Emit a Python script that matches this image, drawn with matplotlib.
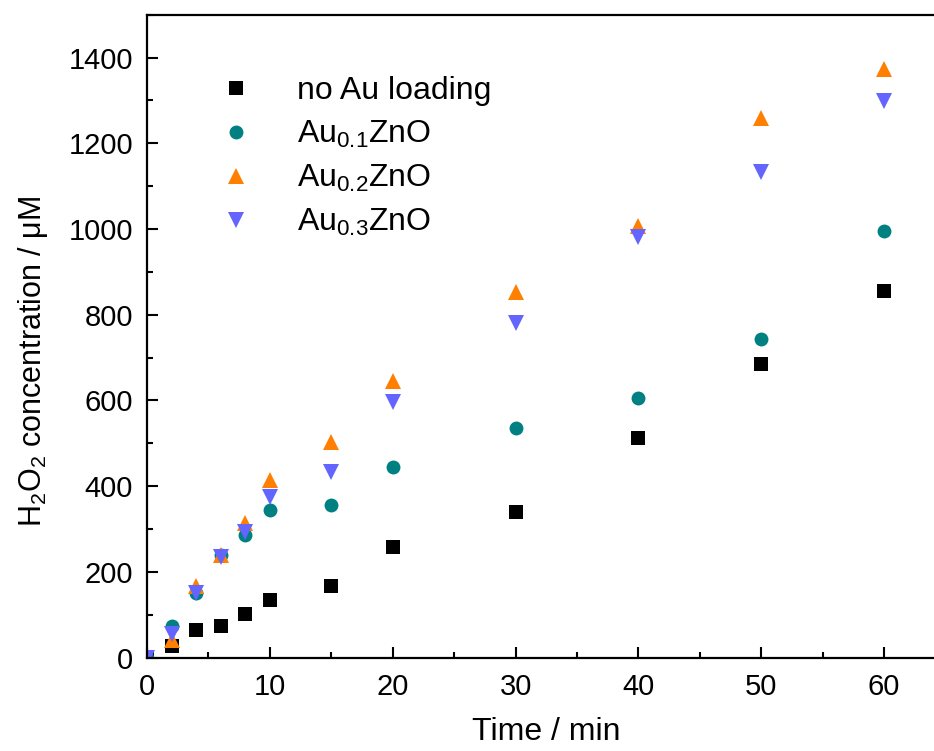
"""plot.py — H2O2 production over time for Au-loaded ZnO → out.png"""
import matplotlib
matplotlib.use("Agg")
import matplotlib.pyplot as plt
from matplotlib.ticker import MultipleLocator

# sampling times (min)
time_min = [0, 2, 4, 6, 8, 10, 15, 20, 30, 40, 50, 60]

# H2O2 concentration (uM) per catalyst
no_au = [0, 28, 65, 74, 101, 135, 168, 258, 340, 513, 685, 856]
au01 = [0, 73, 150, 239, 287, 344, 356, 445, 536, 606, 744, 995]
au02 = [0, 41, 167, 239, 315, 414, 502, 646, 854, 1007, 1258, 1373]
au03 = [0, 55, 150, 235, 294, 375, 434, 597, 781, 982, 1134, 1299]

series_labels = ["no Au loading", "Au$_{0.1}$ZnO", "Au$_{0.2}$ZnO", "Au$_{0.3}$ZnO"]


def main():
    plt.rcParams["font.family"] = ["Liberation Sans", "DejaVu Sans"]
    plt.rcParams["mathtext.fontset"] = "custom"
    plt.rcParams["mathtext.rm"] = "Liberation Sans"
    plt.rcParams["mathtext.it"] = "Liberation Sans:italic"
    plt.rcParams["mathtext.bf"] = "Liberation Sans:bold"

    fig = plt.figure(figsize=(9.34, 7.51), dpi=100)
    ax = fig.add_axes([0.1574, 0.1245, 0.855, 0.856])

    style = [
        (no_au, "s", "#000000", 9.5),
        (au01, "o", "#008080", 10),
        (au02, "^", "#FF8000", 11),
        (au03, "v", "#6464FF", 11),
    ]
    for (vals, mk, color, ms), label in zip(style, series_labels):
        ax.plot(time_min, vals, ls="none", marker=mk, ms=ms, color=color,
                mec=color, mew=0, label=label)

    ax.set_xlim(0, 65)
    ax.set_ylim(0, 1500)
    ax.xaxis.set_major_locator(MultipleLocator(10))
    ax.xaxis.set_minor_locator(MultipleLocator(5))
    ax.yaxis.set_major_locator(MultipleLocator(200))
    ax.yaxis.set_minor_locator(MultipleLocator(100))
    ax.set_yticks(range(0, 1401, 200))
    ax.tick_params(which="both", direction="in", width=1.5, labelsize=21,
                   top=False, right=False)
    ax.tick_params(which="major", length=8)
    ax.tick_params(which="minor", length=4)
    ax.tick_params(axis="x", pad=11)
    ax.tick_params(axis="y", pad=10)
    for sp in ax.spines.values():
        sp.set_linewidth(1.6)

    ax.set_xlabel("Time / min", fontsize=23, labelpad=12)
    ax.set_ylabel("H$_2$O$_2$ concentration / μM", fontsize=22, labelpad=13)
    ax.yaxis.label.set_y(0.46)

    ax.legend(loc="upper left", bbox_to_anchor=(0.092, 0.904), frameon=False,
              fontsize=23, handlelength=1, handletextpad=1.38,
              labelspacing=0.4, borderpad=0, borderaxespad=0)

    fig.savefig("out.png", dpi=100)


if __name__ == "__main__":
    main()
